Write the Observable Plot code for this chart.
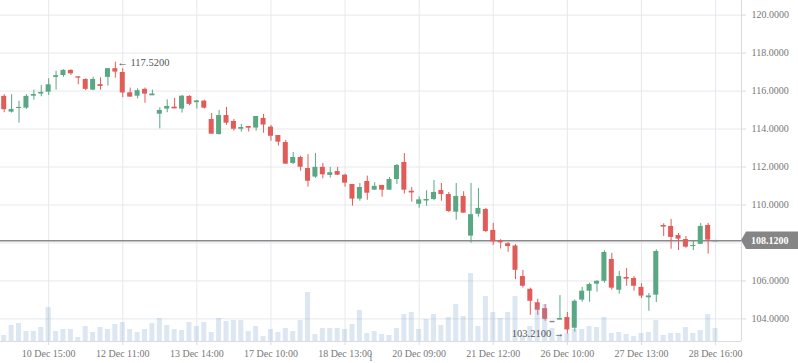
<!DOCTYPE html>
<html><head><meta charset="utf-8">
<script src="https://cdn.jsdelivr.net/npm/d3@7"></script>
<script src="https://cdn.jsdelivr.net/npm/@observablehq/plot@0.6"></script>
<style>
body{margin:0;background:#fff;}
#chart{position:relative;width:798px;height:363px;}
#chart svg{position:absolute;left:0;top:0;}
</style></head><body><div id="chart"></div>
<script>
// ---- data ----
const open  = [115.72,114.89,115.08,115.10,115.73,115.89,115.94,116.72,116.82,117.09,116.75,116.61,116.05,116.33,116.72,117.18,116.98,115.91,115.73,116.09,115.79,114.78,115.05,115.15,115.05,115.72,115.44,115.47,114.50,113.71,114.71,114.40,113.99,114.13,114.05,114.56,114.10,113.66,113.29,112.19,112.50,111.92,111.47,111.98,111.56,111.76,111.57,111.08,110.31,111.24,110.78,111.03,110.78,111.34,112.24,110.72,110.04,110.26,110.29,110.76,110.55,109.62,110.45,108.36,109.51,109.76,108.66,108.10,107.96,107.84,106.23,105.56,104.85,104.54,103.86,103.98,104.07,103.51,104.99,105.46,105.83,105.98,107.13,105.51,106.18,106.13,105.66,105.16,105.25,108.92,108.87,108.39,108.18,107.81,107.93,108.92,108.12];
const high  = [115.81,115.81,115.47,115.81,116.05,116.30,116.65,117.05,117.12,117.12,116.75,116.65,116.73,116.70,117.18,117.52,117.18,116.16,116.12,116.16,116.05,115.12,115.54,115.61,115.77,115.75,115.52,115.52,114.82,114.98,115.14,114.50,114.24,114.14,114.66,114.77,114.19,113.66,113.40,112.77,112.57,112.65,112.71,112.19,111.98,111.98,111.62,111.08,111.13,111.52,111.17,111.03,111.45,112.13,112.71,110.92,110.43,110.75,111.29,111.13,110.66,111.13,110.70,111.13,110.87,109.82,109.03,108.17,108.02,107.91,106.55,105.62,105.04,104.76,103.86,105.23,104.34,105.00,105.66,105.88,106.01,107.59,107.45,106.50,106.65,106.23,105.85,105.34,107.64,109.01,109.24,108.50,108.34,108.08,109.03,109.03,108.12];
const low   = [114.86,114.84,114.31,115.03,115.52,115.70,115.77,116.05,116.73,116.82,116.33,116.02,116.02,116.05,116.26,116.68,115.65,115.68,115.59,115.36,115.79,114.01,114.86,115.10,114.84,115.23,115.05,115.05,113.73,113.68,114.20,113.89,113.84,113.84,113.89,113.78,113.36,113.10,112.15,112.13,111.78,110.94,111.40,111.38,111.41,111.55,110.94,109.94,110.20,110.25,110.78,110.41,110.78,111.08,110.57,110.15,109.83,109.94,110.22,110.20,109.60,109.20,109.57,107.99,109.36,108.55,107.87,107.68,107.51,106.07,105.62,104.19,104.19,103.88,103.86,103.98,103.21,103.30,104.88,104.88,105.41,105.88,105.51,105.30,105.72,105.46,105.07,104.40,104.86,108.34,107.67,107.60,107.72,107.60,107.93,107.41,108.12];
const close = [115.02,115.03,115.14,115.72,115.82,115.93,116.33,116.81,117.09,116.91,116.68,116.09,116.61,116.29,117.18,117.00,115.90,115.68,116.02,115.84,115.84,114.98,115.19,115.10,115.73,115.30,115.47,115.10,113.73,114.71,114.31,113.99,114.08,114.09,114.66,114.21,113.62,113.31,112.15,112.50,111.99,111.25,111.98,111.59,111.70,111.57,111.15,110.31,110.92,110.62,110.98,110.78,111.34,112.08,110.78,110.68,110.27,110.29,110.66,110.55,109.66,110.45,109.57,109.49,109.82,108.60,108.06,108.01,107.81,106.56,105.72,104.93,104.46,103.98,103.86,104.02,103.42,104.93,105.46,105.81,105.98,107.50,105.62,106.23,106.14,105.72,105.20,105.20,107.55,108.88,108.29,108.20,107.78,107.87,108.87,108.15,108.12];
const volume = [6,16,18,10,10,14,34,10,12,12,4,15,9,14,12,17,19,12,9,12,18,23,16,12,11,19,15,19,9,23,20,21,21,10,15,5,12,9,13,10,21,49,7,13,13,13,12,17,31,8,10,7,6,13,27,29,12,22,27,16,24,37,25,68,15,45,29,23,29,45,6,15,36,37,13,7,8,12,12,15,14,24,8,9,7,5,8,9,21,6,8,8,14,8,11,27,13];
const tickIndex  = [6,16,26,36,46,56,66,76,86,96];
const tickLabels = ["10 Dec 15:00","12 Dec 11:00","13 Dec 14:00","17 Dec 10:00","18 Dec 13:00","20 Dec 09:00","21 Dec 12:00","26 Dec 10:00","27 Dec 13:00","28 Dec 16:00"];
const yTicks = [104,106,108,110,112,114,116,118,120];
const slotCount = 100;
const lastPrice = 108.12;
const highMark = [{i:15, v:117.52}];
const lowMark  = [{i:76, v:103.21}];

// ---- build ----
const candles = open.map((o,i)=>({i, open:o, high:high[i], low:low[i], close:close[i], volume:volume[i]}));
const GREEN="#59a783", RED="#e15b58", GRAY="#8c8c8c";
const colorOf = d => d.close>d.open ? GREEN : d.close<d.open ? RED : GRAY;
const labelMap = new Map(tickIndex.map((t,k)=>[t,tickLabels[k]]));
const labelTicks = yTicks.filter(t => Math.abs(t - lastPrice) > 0.5); // the price tag covers the one beside it
const W=798, H=363;
const xOpt = {type:"band", domain:d3.range(slotCount), padding:0, align:0.5, axis:null};
const yDomain = [102.81,120.77];
const common = {width:W, height:H, marginLeft:0, marginRight:57, marginTop:0, marginBottom:22,
  style:{fontFamily:"'Liberation Serif', serif", fontSize:"10px", color:"#777", background:"transparent"}};

const main = Plot.plot({...common,
  x:xOpt, y:{domain:yDomain, axis:null},
  marks:[
    Plot.gridY(yTicks,{stroke:"#e5e8ec", strokeOpacity:1}),
    Plot.gridX(tickIndex,{stroke:"#e5e8ec", strokeOpacity:1}),
    Plot.ruleY([yDomain[0]],{stroke:"#d8dce2"}),
    Plot.ruleX([slotCount-1],{stroke:"#d8dce2", dx:3.7}),
    Plot.axisY(labelTicks,{anchor:"right", tickSize:4, tickPadding:6, stroke:"#d8dce2", fill:"#777", tickFormat:d=>d.toFixed(4)}),
    Plot.axisX(tickIndex,{anchor:"bottom", tickSize:4, tickPadding:4, stroke:"#d8dce2", fill:"#777", tickFormat:d=>labelMap.get(d)}),
    Plot.ruleY([lastPrice],{stroke:"#8a8a8a", strokeWidth:1.5}),
    Plot.ruleX(candles,{x:"i", y1:"low", y2:"high", stroke:colorOf}),
    Plot.barY(candles,{x:"i", y1:"open", y2:"close", fill:colorOf, insetLeft:1.2, insetRight:1.2}),
    Plot.tickY(candles.filter(d=>Math.abs(d.close-d.open)<0.06),{x:"i", y:d=>(d.open+d.close)/2, stroke:colorOf, strokeWidth:1.5, insetLeft:1.2, insetRight:1.2})
  ]
});

const vol = Plot.plot({...common,
  x:xOpt, y:{domain:[0,341], axis:null},
  marks:[
    Plot.barY(candles,{x:"i", y:"volume", fill:"#739fcb", fillOpacity:0.25, insetLeft:1.2, insetRight:1.2})
  ]
});

const notes = Plot.plot({...common,
  x:xOpt, y:{domain:yDomain, axis:null},
  marks:[
    Plot.text(highMark,{x:"i", y:"v", text:d=>"\u2190 "+d.v.toFixed(4), textAnchor:"start", dx:2, fill:"#555", fontSize:10.5}),
    Plot.text(lowMark,{x:"i", y:"v", text:d=>d.v.toFixed(4)+" \u2192", textAnchor:"end", dx:-3, fill:"#555", fontSize:10.5})
  ]
});

// price tag on the right axis, placed with the plot's own scales
const yS = main.scale("y"), xS = main.scale("x");
const py = yS.apply(lastPrice), px = xS.range[1];
const g = d3.select(main).append("g");
g.append("path").attr("d", `M${px},${py} L${px+5},${py-8.7} L${W},${py-8.7} L${W},${py+8.7} L${px+5},${py+8.7} Z`).attr("fill","#858585");
g.append("text").attr("x", px+10).attr("y", py).attr("dy","0.35em").attr("text-anchor","start")
  .attr("fill","#fff").attr("font-weight","bold").attr("font-size",10).text(lastPrice.toFixed(4));

const el = document.getElementById("chart");
el.append(main, vol, notes);
</script></body></html>
